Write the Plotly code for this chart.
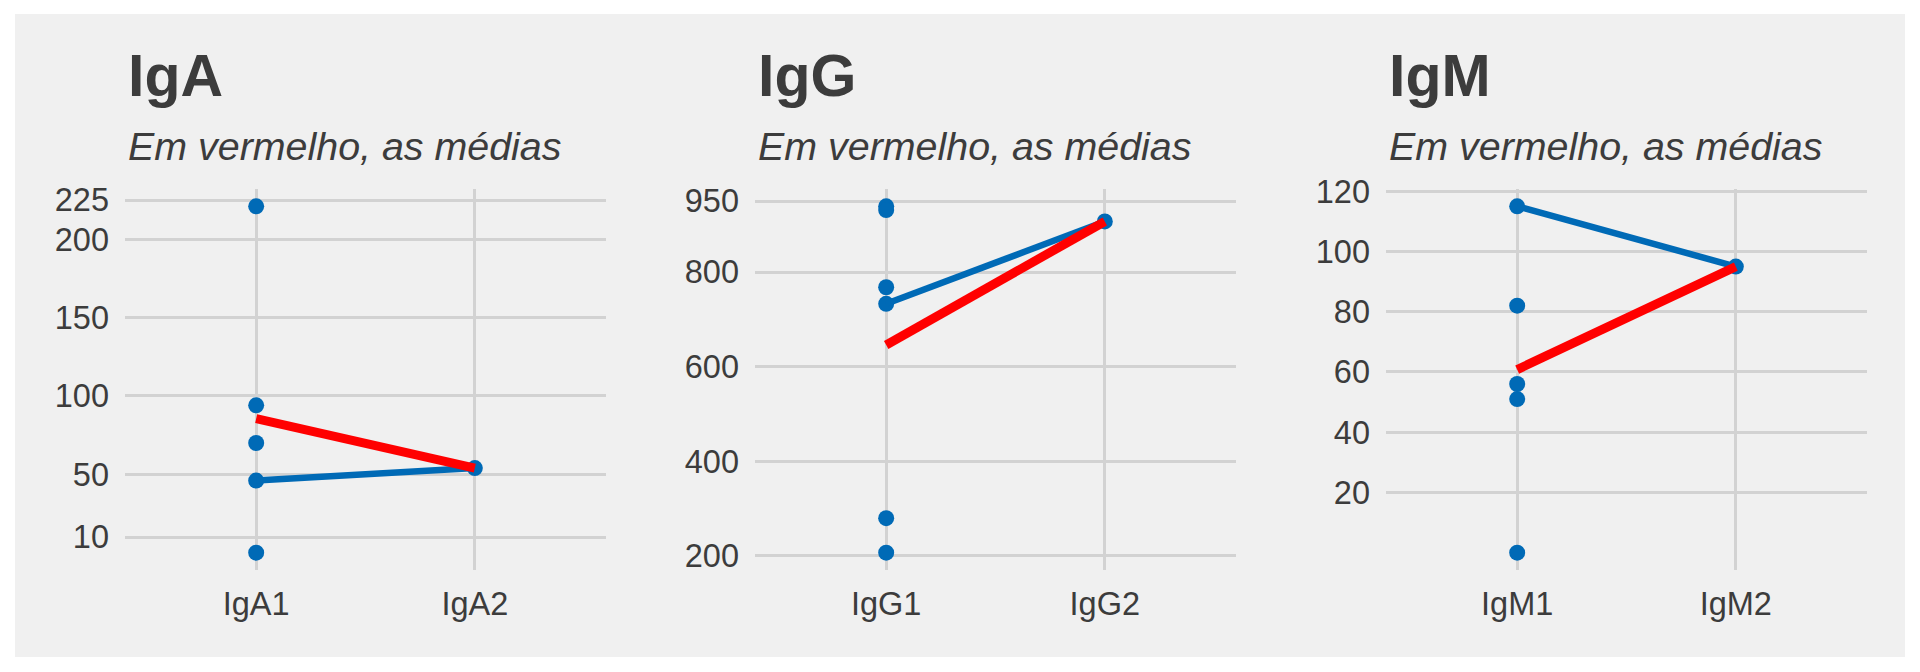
import plotly.graph_objects as go

# ---------------- data ----------------
panels = ["IgA", "IgG", "IgM"]
subtitle = "Em vermelho, as médias"

iga_cats = ["IgA1", "IgA2"]
iga_1 = [221, 94, 70, 46, 0]
iga_2 = [54]
iga_pair = [46, 54]
iga_mean = [85.6, 54]
iga_ticks = [10, 50, 100, 150, 200, 225]

igg_cats = ["IgG1", "IgG2"]
igg_1 = [939, 931, 768, 733, 280, 207]
igg_2 = [907]
igg_pair = [733, 907]
igg_mean = [646, 907]
igg_ticks = [200, 400, 600, 800, 950]

igm_cats = ["IgM1", "IgM2"]
igm_1 = [115, 82, 56, 51, 0]
igm_2 = [95]
igm_pair = [115, 95]
igm_mean = [60.8, 95]
igm_ticks = [20, 40, 60, 80, 100, 120]

# ---------------- style ----------------
W, H = 1920, 672
BG = "#F0F0F0"
GRID = "#D2D2D2"
TXT = "#3C3C3C"
BLUE = "#006AB6"
RED = "#FF0000"
FONT = "Liberation Sans"

panel_left = [125, 755, 1386]
panel_w = 481
panel_top, panel_bot = 189, 570

datasets = [
    (iga_cats, iga_1, iga_2, iga_pair, iga_mean, iga_ticks),
    (igg_cats, igg_1, igg_2, igg_pair, igg_mean, igg_ticks),
    (igm_cats, igm_1, igm_2, igm_pair, igm_mean, igm_ticks),
]

fig = go.Figure()
annotations = []

for i, (cats, g1, g2, pair, mean, ticks) in enumerate(datasets):
    n = "" if i == 0 else str(i + 1)
    xa, ya = "x" + n, "y" + n
    fig.add_trace(go.Scatter(
        x=[cats[0]] * len(g1) + [cats[1]] * len(g2), y=g1 + g2,
        mode="markers", marker=dict(color=BLUE, size=16, line=dict(width=0)),
        xaxis=xa, yaxis=ya, showlegend=False, hoverinfo="skip"))
    fig.add_trace(go.Scatter(
        x=cats, y=pair, mode="lines", line=dict(color=BLUE, width=6.5),
        xaxis=xa, yaxis=ya, showlegend=False, hoverinfo="skip"))
    fig.add_trace(go.Scatter(
        x=cats, y=mean, mode="lines", line=dict(color=RED, width=9),
        xaxis=xa, yaxis=ya, showlegend=False, hoverinfo="skip"))

    allv = g1 + g2
    lo, hi = min(allv), max(allv)
    pad = 0.05 * (hi - lo)
    x0 = panel_left[i] / W
    x1 = (panel_left[i] + panel_w) / W
    common_font = dict(family=FONT, size=32.5, color=TXT)
    fig.layout["xaxis" + n] = dict(
        domain=[x0, x1], anchor=ya, type="category",
        categoryorder="array", categoryarray=cats,
        range=[-0.6, 1.6], showgrid=True, gridcolor=GRID, gridwidth=2.5,
        zeroline=False, showline=False, ticks="", tickfont=common_font,
        ticklabelstandoff=11, fixedrange=True, automargin=False)
    fig.layout["yaxis" + n] = dict(
        domain=[1 - panel_bot / H, 1 - panel_top / H], anchor=xa,
        range=[lo - pad, hi + pad], tickvals=ticks,
        ticktext=[str(t) for t in ticks],
        showgrid=True, gridcolor=GRID, gridwidth=2.5,
        zeroline=False, showline=False, ticks="", tickfont=common_font,
        ticklabelstandoff=15, fixedrange=True, automargin=False)

    annotations.append(dict(
        text="<b>" + panels[i] + "</b>", xref="paper", yref="paper",
        x=(panel_left[i] + 1) / W, y=1 - 76 / H, xanchor="left", yanchor="middle",
        showarrow=False, font=dict(family=FONT, size=59, color=TXT)))
    annotations.append(dict(
        text="<i>" + subtitle + "</i>", xref="paper", yref="paper",
        x=(panel_left[i] + 1) / W, y=1 - 146.5 / H, xanchor="left", yanchor="middle",
        showarrow=False, font=dict(family=FONT, size=39.4, color=TXT)))

fig.update_layout(
    template="none",
    autosize=True,
    margin=dict(l=0, r=0, t=0, b=0, pad=0, autoexpand=False),
    paper_bgcolor="white", plot_bgcolor=BG,
    annotations=annotations,
    shapes=[dict(type="rect", xref="paper", yref="paper",
                 x0=15 / W, x1=1905 / W, y0=1 - 657 / H, y1=1 - 14 / H,
                 fillcolor=BG, line=dict(width=0), layer="below")],
)

fig.write_html(
    "out.html", config={"displayModeBar": False, "responsive": True},
    default_width="100vw", default_height="100vh",
    post_script="document.documentElement.style.margin='0';"
                "document.documentElement.style.padding='0';"
                "document.documentElement.style.overflow='hidden';"
                "document.body.style.margin='0';"
                "document.body.style.padding='0';"
                "document.body.style.overflow='hidden';"
                "Plotly.Plots.resize(document.getElementById('{plot_id}'));")
